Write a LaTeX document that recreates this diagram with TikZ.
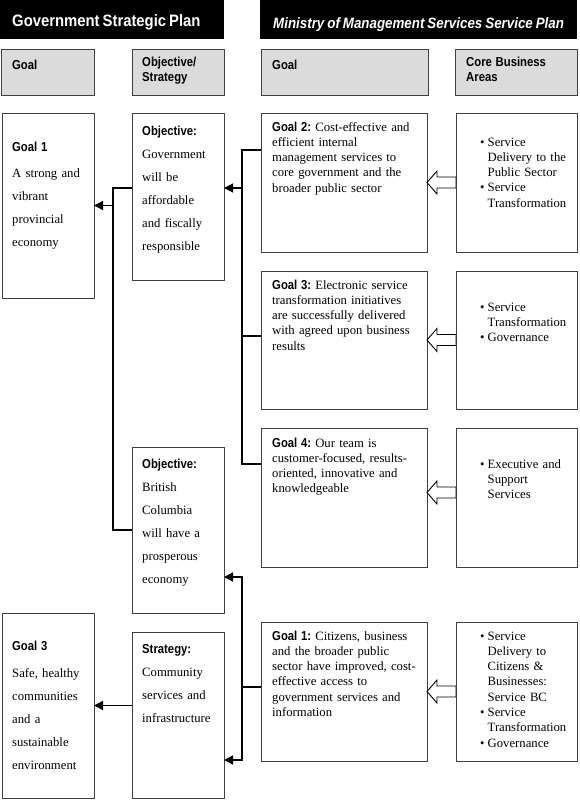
\documentclass[tikz,border=0pt]{standalone}
\usepackage{fontspec}
\usepackage{graphicx}
\setmainfont{Liberation Serif}
\newfontfamily\hsans{Liberation Sans}
\usetikzlibrary{arrows.meta,calc}
\newcommand{\hd}[1]{\scalebox{0.87}[1]{\hsans\bfseries\fontsize{13}{15}\selectfont #1}}
\newcommand{\bi}{\makebox[7.5pt][l]{\textbullet}}
\newcommand{\ind}{\hspace*{7.5pt}}
\newcommand{\bx}[6][]{\node[box,#1,minimum width={(#5-#3)*1pt},minimum height={(#6-#4)*1pt}] (#2) at (#3,#4) {};}
\newcommand{\harr}[3]{\draw[hollow] ($(#1.east)+(0,#3)$) -- ++(10,-11.5) -- ++(0,6) -- ($(#2.west)+(0,#3-5.5)$) -- ++(0,11) -- ($(#1.east)+(10,#3+5.5)$) -- ++(0,6) -- cycle;}
\begin{document}
\begin{tikzpicture}[x=1pt,y=-1pt,
  box/.style={draw=black!75,line width=1pt,fill=white,anchor=north west,inner sep=0pt,outer sep=0pt},
  bar/.style={box,draw=none,fill=black},
  gray/.style={box,fill=black!14},
  txt/.style={anchor=base west,inner sep=0pt,align=left},
  lefttxt/.style={txt,text width=90pt,font=\fontsize{12.7}{23}\selectfont},
  righttxt/.style={txt,text width=160pt,font=\fontsize{12.7}{15.3}\selectfont},
  coretxt/.style={txt,text width=100pt,font=\fontsize{12.7}{15.3}\selectfont},
  graytxt/.style={txt,text width=110pt,font=\fontsize{13}{15}\selectfont},
  conn/.style={line width=1.3pt,black},
  arr/.style={conn,-{Triangle[length=9pt,width=9pt]}},
  hollow/.style={draw=black,line width=0.9pt,fill=white,line join=miter}]
\useasboundingbox (0,0) rectangle (580,801);
% header bars
\bx[bar]{barL}{0}{0}{224}{39}
\bx[bar]{barR}{260}{0}{577}{39}
\node[txt,text width=220pt,text=white] (hL) at (12,26) {\scalebox{0.9}[1]{\hsans\bfseries\fontsize{16.5}{18}\selectfont Government Strategic Plan}};
\node[txt,text width=310pt,text=white] (hR) at (273,28) {\scalebox{0.89}[1]{\hsans\bfseries\itshape\fontsize{15}{18}\selectfont Ministry of Management Services Service Plan}};
% gray headers
\bx[gray]{gGoal}{1}{49}{94}{95}
\bx[gray]{gObj}{132}{49}{224}{95}
\bx[gray]{gGoalR}{261}{49}{428}{95}
\bx[gray]{gCore}{455}{49}{577}{95}
\node[graytxt] (tgGoal) at (12,69) {\hd{Goal}};
\node[graytxt] (tgObj) at (142,66) {\hd{Objective/}\\\hd{Strategy}};
\node[graytxt] (tgGoalR) at (272,69) {\hd{Goal}};
\node[graytxt] (tgCore) at (466,66) {\hd{Core Business}\\\hd{Areas}};
% left boxes
\bx{goal1}{2}{113}{94}{298}
\bx{obj1}{132}{113}{224}{280}
\bx{obj2}{132}{447}{224}{613}
\bx{goal3}{2}{613}{94}{798}
\bx{strat}{132}{632}{224}{798}
% right boxes
\bx{g2}{261}{113}{427}{252}
\bx{g3}{261}{271}{427}{409}
\bx{g4}{261}{428}{427}{567}
\bx{g1}{261}{622}{427}{761}
\bx{c1}{456}{113}{577}{252}
\bx{c2}{456}{271}{577}{409}
\bx{c3}{456}{428}{577}{567}
\bx{c4}{456}{622}{577}{761}
% left texts
\node[lefttxt] (tgoal1) at (12,151) {\hd{Goal 1}\\[3pt]A strong and\\vibrant\\provincial\\economy};
\node[lefttxt] (tobj1) at (142,135) {\hd{Objective:}\\Government\\will be\\affordable\\and fiscally\\responsible};
\node[lefttxt] (tobj2) at (142,468) {\hd{Objective:}\\British\\Columbia\\will have a\\prosperous\\economy};
\node[lefttxt] (tgoal3) at (12,650) {\hd{Goal 3}\\[4pt]Safe, healthy\\communities\\and a\\sustainable\\environment};
\node[lefttxt] (tstrat) at (142,653) {\hd{Strategy:}\\Community\\services and\\infrastructure};
% right texts
\node[righttxt] (tg2) at (272,131) {\hd{Goal 2:} Cost-effective and\\efficient internal\\management services to\\core government and the\\broader public sector};
\node[righttxt] (tg3) at (272,289) {\hd{Goal 3:} Electronic service\\transformation initiatives\\are successfully delivered\\with agreed upon business\\results};
\node[righttxt] (tg4) at (272,447) {\hd{Goal 4:} Our team is\\customer-focused, results-\\oriented, innovative and\\knowledgeable};
\node[righttxt] (tg1) at (272,640) {\hd{Goal 1:} Citizens, business\\and the broader public\\sector have improved, cost-\\effective access to\\government services and\\information};
% core texts
\node[coretxt] (tc1) at (480,146) {\bi Service\\\ind Delivery to the\\\ind Public Sector\\\bi Service\\\ind Transformation};
\node[coretxt] (tc2) at (480,311) {\bi Service\\\ind Transformation\\\bi Governance};
\node[coretxt] (tc3) at (480,468) {\bi Executive and\\\ind Support\\\ind Services};
\node[coretxt] (tc4) at (480,640) {\bi Service\\\ind Delivery to\\\ind Citizens \&\\\ind Businesses:\\\ind Service BC\\\bi Service\\\ind Transformation\\\bi Governance};
% connectors left
\coordinate (jA) at (113,188);
\draw[conn] (obj1.west |- jA) -- (jA) -- (jA |- obj2.west) -- (obj2.west);
\draw[arr] (jA |- goal1.east) -- (goal1.east);
\draw[arr] (strat.west |- goal3.east) -- (goal3.east);
% connectors right top
\coordinate (jC) at (242,150);
\draw[conn] (g2.west |- jC) -- (jC) -- (jC |- 0,464) -- (g4.west |- 0,464);
\draw[conn] (jC |- 0,336) -- (g3.west |- 0,336);
\draw[arr] (jC |- 0,188) -- (obj1.east |- 0,188);
% connectors right bottom
\coordinate (jD) at (242,577);
\coordinate (jE) at (242,760);
\draw[arr] (g1.west |- 0,687) -- (jD |- 0,687) -- (jD) -- (obj2.east |- jD);
\draw[arr] (jD |- 0,687) -- (jE) -- (strat.east |- jE);
% hollow arrows
\harr{g2}{c1}{0}
\harr{g3}{c2}{0}
\harr{g4}{c3}{-5}
\harr{g1}{c4}{0}
\end{tikzpicture}
\end{document}
